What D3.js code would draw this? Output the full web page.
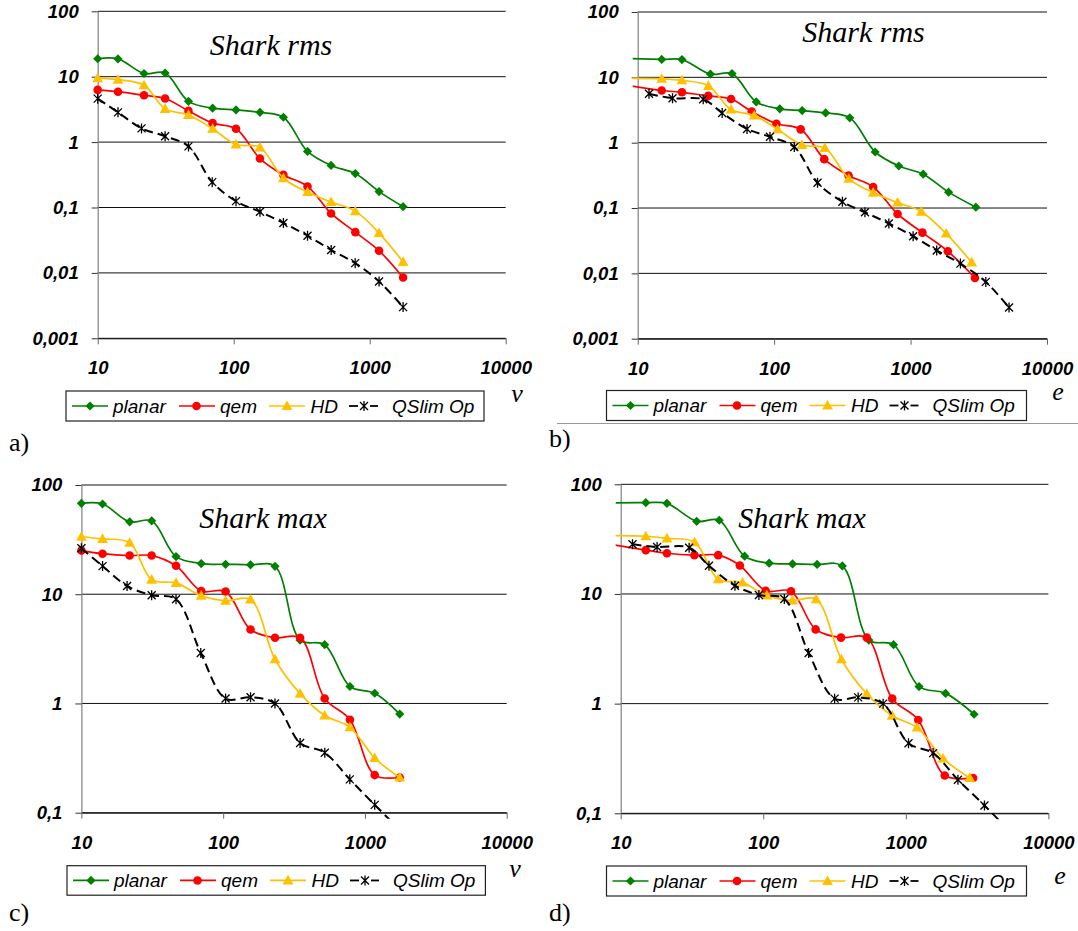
<!DOCTYPE html>
<html><head><meta charset="utf-8">
<script src="https://cdn.jsdelivr.net/npm/d3@7"></script>
<style>body{margin:0;background:#fff} svg{display:block}</style>
</head><body>
<svg id="chart" width="1078" height="931"></svg>
<script>
// ---------- data ----------
const seriesNames = ["planar", "qem", "HD", "QSlim Op"];
// vertex counts (x of panels a, c)
const vCounts = [10, 14.1, 21.9, 31.3, 46.5, 70, 104, 156, 232, 349, 520, 784, 1172, 1760];
const qslimV  = [10, 14.1, 21, 31.3, 46.5, 69.5, 104, 156, 232, 349, 521, 782, 1172, 1760];
// edge counts (x of panels b, d); first entry of planar/qem/HD lies left of the axis
const planarE = [7, 15, 21.1, 34.1, 49.1, 74, 110, 160.5, 238.5, 358.5, 550, 820, 1238, 1900, 3010];
const qemE    = [7, 15, 21.1, 32.9, 48.3, 68.5, 104, 156.5, 233, 351, 532, 803, 1222, 1875, 2965];
const hdE     = [7, 15, 21.1, 33, 48.3, 71.5, 106, 160, 235, 353, 532, 803, 1200, 1825, 2808];
const qslimE  = [12.1, 18, 30.2, 41.6, 63.3, 93.2, 140.5, 208, 316.5, 463, 693, 1044, 1554, 2320, 3560, 5270];

// rms error
const planarRms = [18.8, 18.7, 11.2, 11.4, 4.2, 3.3, 3.1, 2.85, 2.4, 0.72, 0.44, 0.33, 0.175, 0.103];
const qemRms    = [6.29, 5.9, 5.2, 4.65, 3.0, 1.95, 1.6, 0.56, 0.315, 0.21, 0.081, 0.042, 0.0218, 0.0085];
const hdRms     = [9.5, 9.0, 7.4, 3.22, 2.6, 1.6, 0.92, 0.83, 0.28, 0.172, 0.121, 0.088, 0.0406, 0.0147];
const qslimRms  = [5.6, 4.8, 4.62, 2.85, 1.62, 1.23, 0.86, 0.244, 0.125, 0.086, 0.058, 0.037, 0.0224, 0.0141, 0.0074, 0.0030];
const leadRms   = [19.6, 8.0, 9.6];   // planar, qem, HD values of the point left of the e-axis

// max error
const planarMax = [68, 67, 46, 47, 22.1, 19.1, 18.8, 18.6, 18.0, 3.8, 3.45, 1.43, 1.24, 0.80];
const qemMax    = [25.1, 23.5, 22.6, 22.6, 18.2, 10.7, 10.6, 4.75, 4.0, 4.0, 1.11, 0.71, 0.221, 0.21];
const hdMax     = [33.6, 32.1, 29.6, 13.6, 12.7, 9.7, 8.7, 8.95, 2.54, 1.23, 0.776, 0.605, 0.316, 0.21];
const qslimMax  = [28.4, 26.8, 26.4, 18.1, 11.9, 9.8, 9.0, 2.9, 1.11, 1.14, 1.0, 0.435, 0.354, 0.202, 0.118, 0.07];
const leadMax   = [67.5, 29.5, 34];

const xTicks = [10, 100, 1000, 10000];
const xTickLabels = ["10", "100", "1000", "10000"];
const yTicksRms = [0.001, 0.01, 0.1, 1, 10, 100];
const yTickLabelsRms = ["0,001", "0,01", "0,1", "1", "10", "100"];
const yTicksMax = [0.1, 1, 10, 100];
const yTickLabelsMax = ["0,1", "1", "10", "100"];

// ---------- styles ----------
const colors = ["#008000", "#FF0000", "#FFC000", "#000000"];
const SANS = "'Liberation Sans', Arial, sans-serif";
const SERIF = "'Liberation Serif', 'Times New Roman', serif";

const zip = (xs, ys) => xs.map((x, i) => [x, ys[i]]);

const panels = [
  { key: "a", x0: 97.7, x1: 505.7, yTop: 11.3, yBot: 338.3, yMin: 0.001,
    ticks: yTicksRms, tickLabels: yTickLabelsRms, title: "Shark rms", tx: 271, ty: 55,
    axisName: "v", anx: 517, any: 402, letter: "a)", lx: 9, ly: 451,
    legend: { x: 66, y: 391, w: 418, h: 30 },
    series: [zip(vCounts, planarRms), zip(vCounts, qemRms), zip(vCounts, hdRms), zip(qslimV, qslimRms.slice(2))] },
  { key: "b", x0: 637.7, x1: 1047, yTop: 12, yBot: 338.7, yMin: 0.001,
    ticks: yTicksRms, tickLabels: yTickLabelsRms, title: "Shark rms", tx: 863.5, ty: 42,
    axisName: "e", anx: 1058, any: 400, letter: "b)", lx: 549, ly: 447,
    legend: { x: 606.5, y: 390.5, w: 420, h: 30 },
    series: [zip(planarE, [leadRms[0]].concat(planarRms)), zip(qemE, [leadRms[1]].concat(qemRms)),
             zip(hdE, [leadRms[2]].concat(hdRms)), zip(qslimE, qslimRms)] },
  { key: "c", x0: 81.4, x1: 506.7, yTop: 485, yBot: 812.7, yMin: 0.1,
    ticks: yTicksMax, tickLabels: yTickLabelsMax, title: "Shark max", tx: 263, ty: 527.7,
    axisName: "v", anx: 515, any: 877, letter: "c)", lx: 9, ly: 921,
    legend: { x: 67, y: 865.7, w: 418.4, h: 29.5 },
    series: [zip(vCounts, planarMax), zip(vCounts, qemMax), zip(vCounts, hdMax), zip(qslimV, qslimMax.slice(2))] },
  { key: "d", x0: 620.7, x1: 1048.4, yTop: 484.3, yBot: 813.3, yMin: 0.1,
    ticks: yTicksMax, tickLabels: yTickLabelsMax, title: "Shark max", tx: 802, ty: 527.7,
    axisName: "e", anx: 1060, any: 884, letter: "d)", lx: 549, ly: 921,
    legend: { x: 606.5, y: 866, w: 420, h: 30 },
    series: [zip(planarE, [leadMax[0]].concat(planarMax)), zip(qemE, [leadMax[1]].concat(qemMax)),
             zip(hdE, [leadMax[2]].concat(hdMax)), zip(qslimE, qslimMax)] }
];

const svg = d3.select("#chart");

function drawMarker(g, i) {
  if (i === 0) {
    g.append("path").attr("d", "M0,-4.6L4.6,0L0,4.6L-4.6,0Z").attr("fill", colors[0]);
  } else if (i === 1) {
    g.append("circle").attr("r", 4.3).attr("fill", colors[1]);
  } else if (i === 2) {
    g.append("path").attr("d", "M0,-5.6L5.4,4L-5.4,4Z").attr("fill", colors[2]);
  } else {
    g.append("path").attr("d", "M-4,-4L4,4M-4,4L4,-4M0,-5L0,5")
      .attr("stroke", "#000").attr("stroke-width", 1.3).attr("fill", "none");
  }
}

panels.forEach(p => {
  const x = d3.scaleLog().domain([10, 10000]).range([p.x0, p.x1]);
  const y = d3.scaleLog().domain([p.yMin, 100]).range([p.yBot, p.yTop]);
  const g = svg.append("g").attr("class", "panel-" + p.key);

  // gridlines
  g.append("g").selectAll("line").data(p.ticks).join("line")
    .attr("x1", p.x0).attr("x2", p.x1)
    .attr("y1", d => y(d)).attr("y2", d => y(d))
    .attr("stroke", "#111").attr("stroke-width", 1);

  // y axis
  const ya = g.append("g").attr("transform", `translate(${p.x0},0)`)
    .call(d3.axisLeft(y).tickValues(p.ticks)
      .tickFormat((d, i) => p.tickLabels[i]).tickSizeInner(6).tickSizeOuter(0).tickPadding(13));
  ya.select(".domain").attr("stroke", "#808080").attr("stroke-width", 1.2);
  ya.selectAll(".tick line").attr("stroke", "#333");
  ya.selectAll("text").attr("font-family", SANS).attr("font-weight", "bold")
    .attr("font-style", "italic").attr("font-size", "18.5px").attr("fill", "#000");

  // x axis
  const xa = g.append("g").attr("transform", `translate(0,${p.yBot})`)
    .call(d3.axisBottom(x).tickValues(xTicks)
      .tickFormat((d, i) => xTickLabels[i]).tickSizeInner(6).tickSizeOuter(0).tickPadding(17));
  xa.select(".domain").attr("stroke", "#111").attr("stroke-width", 1);
  xa.selectAll(".tick line").attr("stroke", "#666");
  xa.selectAll("text").attr("font-family", SANS).attr("font-weight", "bold")
    .attr("font-style", "italic").attr("font-size", "18.5px").attr("fill", "#000");

  // clip
  const clipId = "clip-" + p.key;
  svg.append("defs").append("clipPath").attr("id", clipId).append("rect")
    .attr("x", p.x0 - 5).attr("y", p.yTop - 3).attr("width", p.x1 - p.x0 + 5).attr("height", p.yBot - p.yTop + 9);

  const plot = g.append("g").attr("clip-path", `url(#${clipId})`);
  const line = d3.line().x(d => x(d[0])).y(d => y(d[1])).curve(d3.curveCatmullRom.alpha(0.5));

  p.series.forEach((s, i) => {
    const sg = plot.append("g");
    sg.append("path").datum(s).attr("d", line).attr("fill", "none")
      .attr("stroke", colors[i]).attr("stroke-width", i === 3 ? 2.0 : 1.7)
      .attr("stroke-dasharray", i === 3 ? "9,5" : null);
    s.filter(d => d[0] >= 10 && d[0] <= 10000 && d[1] >= p.yMin && d[1] <= 100).forEach(d => {
      const mg = sg.append("g").attr("transform", `translate(${x(d[0])},${y(d[1])})`);
      drawMarker(mg, i);
    });
  });

  // title
  g.append("text").attr("x", p.tx).attr("y", p.ty).attr("text-anchor", "middle")
    .attr("font-family", SERIF).attr("font-style", "italic").attr("font-size", "30px")
    .text(p.title);

  // axis name
  g.append("text").attr("x", p.anx).attr("y", p.any).attr("text-anchor", "middle")
    .attr("font-family", SERIF).attr("font-style", "italic").attr("font-size", "26px")
    .text(p.axisName);

  // panel letter
  g.append("text").attr("x", p.lx).attr("y", p.ly)
    .attr("font-family", SERIF).attr("font-size", "26px").text(p.letter);

  // legend
  const L = p.legend;
  const lg = g.append("g").attr("transform", `translate(${L.x},${L.y})`);
  lg.append("rect").attr("width", L.w).attr("height", L.h)
    .attr("fill", "#fff").attr("stroke", "#222").attr("stroke-width", 1.2);
  const cy = L.h / 2;
  const entries = [
    { l0: 6, l1: 42, m: 24, t: 47 },
    { l0: 113, l1: 149, m: 130.5, t: 154 },
    { l0: 203, l1: 239, m: 221, t: 244.5 },
    { l0: 283, l1: 312, m: 298, t: 326 }
  ];
  entries.forEach((e, i) => {
    if (i < 3) {
      lg.append("line").attr("x1", e.l0).attr("x2", e.l1).attr("y1", cy).attr("y2", cy)
        .attr("stroke", colors[i]).attr("stroke-width", 1.7);
    } else {
      lg.append("line").attr("x1", e.l0).attr("x2", e.l0 + 9).attr("y1", cy).attr("y2", cy)
        .attr("stroke", "#000").attr("stroke-width", 1.8);
      lg.append("line").attr("x1", e.m + 6).attr("x2", e.l1).attr("y1", cy).attr("y2", cy)
        .attr("stroke", "#000").attr("stroke-width", 1.8);
    }
    const mg = lg.append("g").attr("transform", `translate(${e.m},${cy})`);
    drawMarker(mg, i);
    lg.append("text").attr("x", e.t).attr("y", cy).attr("dy", "0.36em")
      .attr("font-family", SANS).attr("font-style", "italic").attr("font-size", "19px")
      .text(seriesNames[i]);
  });
});

// separator line below panel b
svg.append("line").attr("x1", 557).attr("x2", 1078).attr("y1", 423.5).attr("y2", 423.5)
  .attr("stroke", "#999").attr("stroke-width", 1);
</script>
</body></html>
